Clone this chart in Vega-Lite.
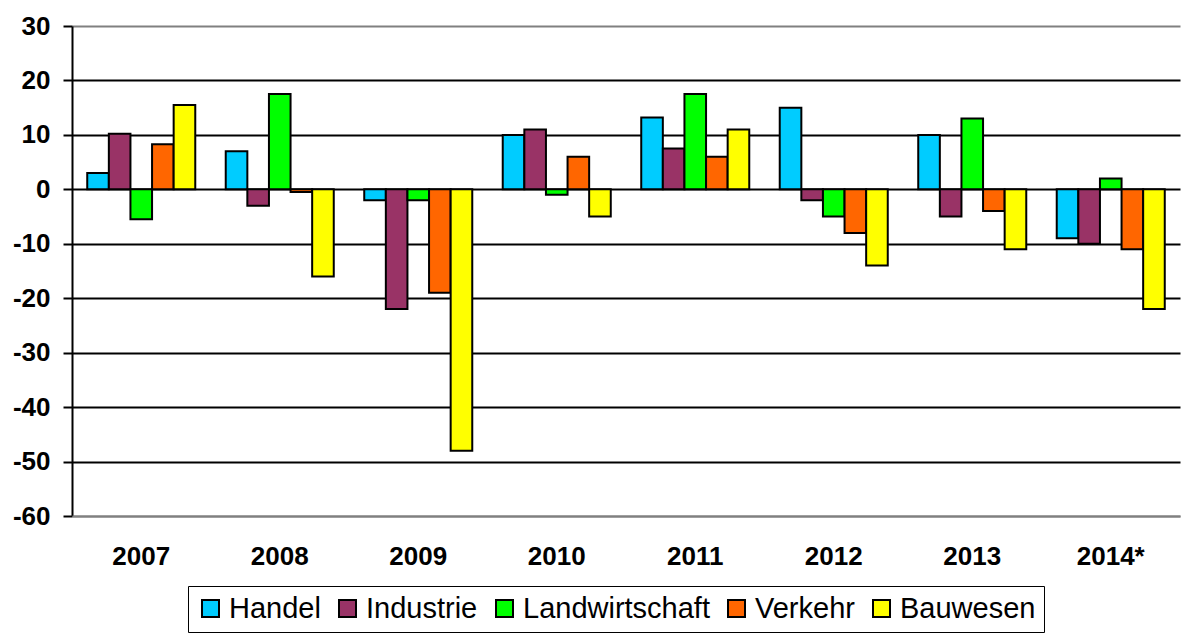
{
  "$schema": "https://vega.github.io/schema/vega-lite/v6.json",
  "width": 1108,
  "height": 490,
  "autosize": {"type": "none"},
  "padding": {"left": 72, "top": 26, "right": 10, "bottom": 119},
  "background": "white",
  "config": {
    "view": {"stroke": null},
    "font": "Liberation Sans"
  },
  "data": {
    "values": [
      {"jahr": "2007", "sektor": "Handel", "wert": 3},
      {"jahr": "2007", "sektor": "Industrie", "wert": 10.2},
      {"jahr": "2007", "sektor": "Landwirtschaft", "wert": -5.5},
      {"jahr": "2007", "sektor": "Verkehr", "wert": 8.3},
      {"jahr": "2007", "sektor": "Bauwesen", "wert": 15.5},
      {"jahr": "2008", "sektor": "Handel", "wert": 7},
      {"jahr": "2008", "sektor": "Industrie", "wert": -3},
      {"jahr": "2008", "sektor": "Landwirtschaft", "wert": 17.5},
      {"jahr": "2008", "sektor": "Verkehr", "wert": -0.5},
      {"jahr": "2008", "sektor": "Bauwesen", "wert": -16},
      {"jahr": "2009", "sektor": "Handel", "wert": -2},
      {"jahr": "2009", "sektor": "Industrie", "wert": -22},
      {"jahr": "2009", "sektor": "Landwirtschaft", "wert": -2},
      {"jahr": "2009", "sektor": "Verkehr", "wert": -19},
      {"jahr": "2009", "sektor": "Bauwesen", "wert": -48},
      {"jahr": "2010", "sektor": "Handel", "wert": 10},
      {"jahr": "2010", "sektor": "Industrie", "wert": 11},
      {"jahr": "2010", "sektor": "Landwirtschaft", "wert": -1},
      {"jahr": "2010", "sektor": "Verkehr", "wert": 6},
      {"jahr": "2010", "sektor": "Bauwesen", "wert": -5},
      {"jahr": "2011", "sektor": "Handel", "wert": 13.2},
      {"jahr": "2011", "sektor": "Industrie", "wert": 7.5},
      {"jahr": "2011", "sektor": "Landwirtschaft", "wert": 17.5},
      {"jahr": "2011", "sektor": "Verkehr", "wert": 6},
      {"jahr": "2011", "sektor": "Bauwesen", "wert": 11},
      {"jahr": "2012", "sektor": "Handel", "wert": 15},
      {"jahr": "2012", "sektor": "Industrie", "wert": -2},
      {"jahr": "2012", "sektor": "Landwirtschaft", "wert": -5},
      {"jahr": "2012", "sektor": "Verkehr", "wert": -8},
      {"jahr": "2012", "sektor": "Bauwesen", "wert": -14},
      {"jahr": "2013", "sektor": "Handel", "wert": 10},
      {"jahr": "2013", "sektor": "Industrie", "wert": -5},
      {"jahr": "2013", "sektor": "Landwirtschaft", "wert": 13},
      {"jahr": "2013", "sektor": "Verkehr", "wert": -4},
      {"jahr": "2013", "sektor": "Bauwesen", "wert": -11},
      {"jahr": "2014*", "sektor": "Handel", "wert": -9},
      {"jahr": "2014*", "sektor": "Industrie", "wert": -10},
      {"jahr": "2014*", "sektor": "Landwirtschaft", "wert": 2},
      {"jahr": "2014*", "sektor": "Verkehr", "wert": -11},
      {"jahr": "2014*", "sektor": "Bauwesen", "wert": -22}
    ]
  },
  "mark": {"type": "bar", "stroke": "black", "strokeWidth": 2},
  "encoding": {
    "x": {
      "field": "jahr",
      "type": "nominal",
      "sort": null,
      "scale": {"paddingInner": 0.22, "paddingOuter": 0.11},
      "axis": {
        "title": null,
        "labelAngle": 0,
        "labelFont": "Liberation Sans",
        "labelFontWeight": "bold",
        "labelFontSize": 26,
        "labelColor": "black",
        "labelPadding": 27,
        "ticks": false,
        "domainColor": "#808080",
        "domainWidth": 2,
        "zindex": 1
      }
    },
    "xOffset": {
      "field": "sektor",
      "type": "nominal",
      "sort": ["Handel", "Industrie", "Landwirtschaft", "Verkehr", "Bauwesen"],
      "scale": {"paddingInner": 0}
    },
    "y": {
      "field": "wert",
      "type": "quantitative",
      "scale": {"domain": [-60, 30], "nice": false},
      "axis": {
        "title": null,
        "values": [-60, -50, -40, -30, -20, -10, 0, 10, 20, 30],
        "labelExpr": "replace(datum.label, '\u2212', '-')",
        "labelFont": "Liberation Sans",
        "labelFontWeight": "bold",
        "labelFontSize": 26,
        "labelColor": "black",
        "labelPadding": 13,
        "tickSize": 9,
        "tickColor": "black",
        "tickWidth": 2,
        "domainColor": "black",
        "domainWidth": 2,
        "grid": true,
        "gridColor": {"condition": {"test": "datum.value == 30 || datum.value == -60", "value": "#808080"}, "value": "black"},
        "gridWidth": 2,
        "zindex": 0
      }
    },
    "color": {
      "field": "sektor",
      "type": "nominal",
      "sort": ["Handel", "Industrie", "Landwirtschaft", "Verkehr", "Bauwesen"],
      "scale": {
        "domain": ["Handel", "Industrie", "Landwirtschaft", "Verkehr", "Bauwesen"],
        "range": ["#00CCFF", "#993366", "#00FF00", "#FF6600", "#FFFF00"]
      },
      "legend": {
        "title": null,
        "orient": "none",
        "legendX": 116,
        "legendY": 560,
        "direction": "horizontal",
        "columns": 5,
        "gridAlign": "none",
        "symbolType": "square",
        "symbolSize": 289,
        "symbolStrokeColor": "black",
        "symbolStrokeWidth": 2,
        "labelFont": "Liberation Sans",
        "labelFontSize": 29,
        "labelLimit": 400,
        "labelColor": "black",
        "labelOffset": 4,
        "columnPadding": 12,
        "padding": 8,
        "strokeColor": "black",
        "fillColor": "white"
      }
    }
  }
}
